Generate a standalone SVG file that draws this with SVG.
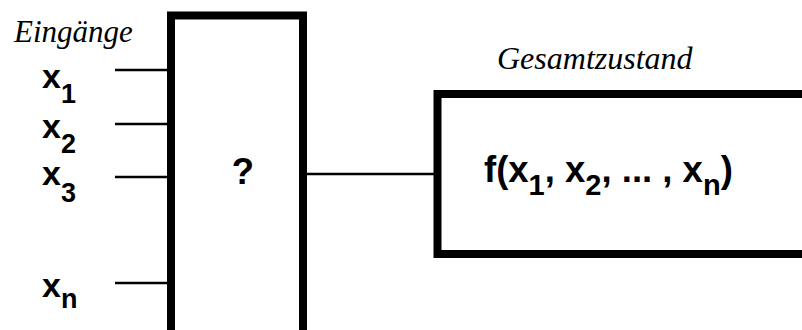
<svg xmlns="http://www.w3.org/2000/svg" width="802" height="330" viewBox="0 0 802 330">
<style>
.box{fill:none;stroke:#000;stroke-width:8}
.wire{stroke:#000;stroke-width:2.5;fill:none}
.lbl{font-family:"Liberation Serif","Times New Roman",serif;font-style:italic;font-size:31px;fill:#000}
.var{font-family:"Liberation Sans",Arial,sans-serif;font-weight:bold;font-size:34px;fill:#000}
.sub{font-size:27px}
.fn{font-family:"Liberation Sans",Arial,sans-serif;font-weight:bold;font-size:36.5px;fill:#000}
.fsub{font-size:29px}
</style>
<rect width="802" height="330" fill="#fff"/>
<g id="connectors">
<line class="wire" x1="115" y1="70" x2="170" y2="70"/>
<line class="wire" x1="115" y1="124" x2="170" y2="124"/>
<line class="wire" x1="115" y1="177" x2="170" y2="177"/>
<line class="wire" x1="115" y1="283" x2="170" y2="283"/>
<line class="wire" x1="303" y1="174" x2="437" y2="174"/>
</g>
<g id="inputs">
<text class="lbl" x="14" y="42">Eingänge</text>
<text class="var" x="42" y="88">x<tspan class="sub" dy="15">1</tspan></text>
<text class="var" x="42" y="138">x<tspan class="sub" dy="15">2</tspan></text>
<text class="var" x="42" y="185">x<tspan class="sub" dy="17">3</tspan></text>
<text class="var" x="42" y="297">x<tspan class="sub" dy="11">n</tspan></text>
</g>
<g id="unknown">
<path class="box" d="M171 330 V15.5 H303 V330"/>
<text class="fn" x="243" y="184" text-anchor="middle">?</text>
</g>
<g id="state">
<path class="box" d="M802 94 H437.5 V254 H802"/>
<text class="lbl" x="497" y="69" style="font-size:32px">Gesamtzustand</text>
<text class="fn" x="484" y="182">f(x<tspan class="fsub" dy="13">1</tspan><tspan dy="-13">, x</tspan><tspan class="fsub" dy="13">2</tspan><tspan dy="-13">, ... , x</tspan><tspan class="fsub" dy="13">n</tspan><tspan dy="-13">)</tspan></text>
</g>
</svg>
